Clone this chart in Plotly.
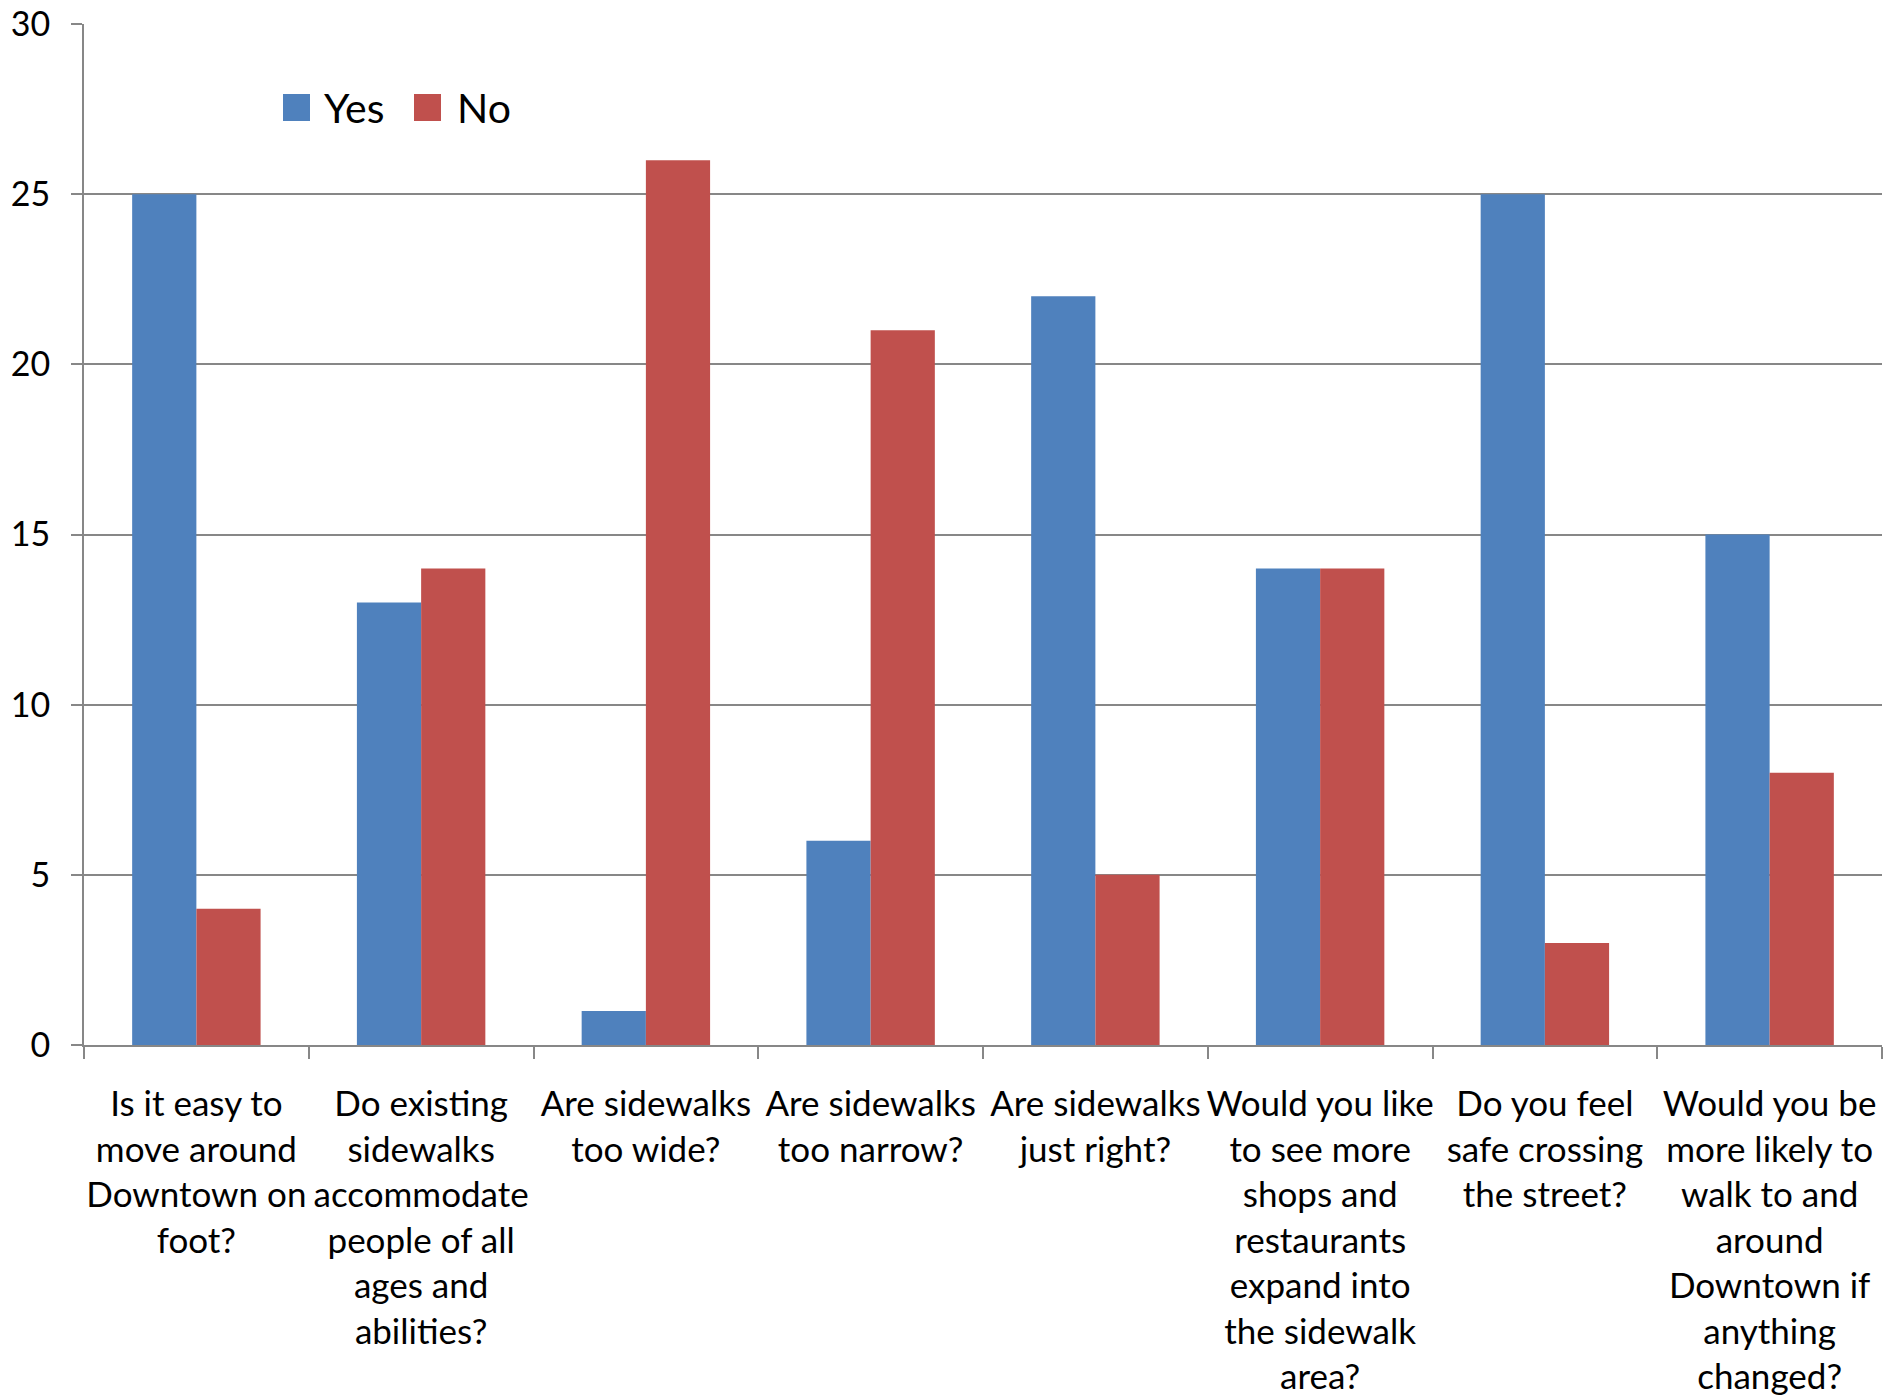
import plotly.graph_objects as go

categories = [
    "Is it easy to<br>move around<br>Downtown on<br>foot?",
    "Do existing<br>sidewalks<br>accommodate<br>people of all<br>ages and<br>abilities?",
    "Are sidewalks<br>too wide?",
    "Are sidewalks<br>too narrow?",
    "Are sidewalks<br>just right?",
    "Would you like<br>to see more<br>shops and<br>restaurants<br>expand into<br>the sidewalk<br>area?",
    "Do you feel<br>safe crossing<br>the street?",
    "Would you be<br>more likely to<br>walk to and<br>around<br>Downtown if<br>anything<br>changed?",
]
yes_values = [25, 13, 1, 6, 22, 14, 25, 15]
no_values = [4, 14, 26, 21, 5, 14, 3, 8]
y_ticks = [0, 5, 10, 15, 20, 25, 30]

BLUE = "#4F81BD"
RED = "#C0504D"
GRID = "#878787"
FONT = "Lato"

fig = go.Figure()
fig.add_trace(go.Bar(x=categories, y=yes_values, name="Yes", marker_color=BLUE,
                     marker_line_width=0, showlegend=False))
fig.add_trace(go.Bar(x=categories, y=no_values, name="No", marker_color=RED,
                     marker_line_width=0, showlegend=False))

L, R, T, B = 84, 16, 24, 352
W, H = 1898, 1397
pw = W - L - R
ph = H - T - B

def px_x(px):
    return (px - L) / pw

def px_y(py):
    return (H - B - py) / ph

shapes = []
annotations = []
legend_items = [("Yes", BLUE, 283, 322), ("No", RED, 414, 455)]
for name, color, sx, tx in legend_items:
    shapes.append(dict(type="rect", xref="paper", yref="paper",
                       x0=px_x(sx), x1=px_x(sx + 27), y0=px_y(121), y1=px_y(94),
                       fillcolor=color, line_width=0))
    annotations.append(dict(text=name, xref="paper", yref="paper", x=px_x(tx), y=px_y(107),
                            xanchor="left", yanchor="middle", showarrow=False,
                            font=dict(family=FONT, size=41, color="#000000")))

fig.update_layout(
    width=W, height=H,
    margin=dict(l=L, r=R, t=T, b=B, autoexpand=False),
    paper_bgcolor="white", plot_bgcolor="white",
    barmode="group", bargap=0.4286, bargroupgap=0,
    font=dict(family=FONT, size=32, color="#000000"),
    shapes=shapes, annotations=annotations,
    showlegend=False,
)
fig.update_yaxes(
    range=[0, 30], tickvals=y_ticks, ticktext=[str(v) for v in y_ticks],
    showgrid=True, gridcolor=GRID, gridwidth=1.5,
    showline=True, linecolor=GRID, linewidth=2,
    ticks="outside", ticklen=11, tickcolor=GRID, tickwidth=2,
    zeroline=False, ticklabelstandoff=14, ticklabeloverflow="allow",
    tickfont=dict(family=FONT, size=34, color="#000000"),
)
fig.update_xaxes(
    showline=True, linecolor=GRID, linewidth=2,
    ticks="outside", tickson="boundaries", ticklen=12, tickcolor=GRID, tickwidth=2,
    showgrid=False, tickangle=0, ticklabelstandoff=27,
    tickfont=dict(family=FONT, size=35, color="#000000"),
)

fig.write_html("out.html",
               config={"displayModeBar": False},
               post_script="document.body.style.margin='0';document.body.style.overflow='hidden';")
